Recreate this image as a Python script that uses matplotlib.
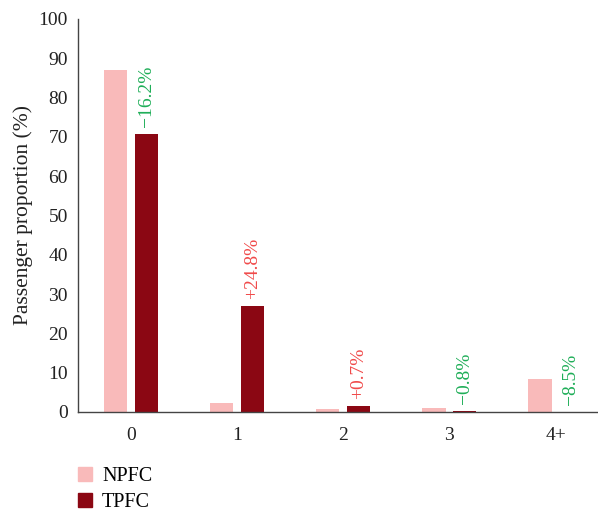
import matplotlib.pyplot as plt
import numpy as np
from matplotlib.lines import Line2D

## Data
categories = ["0", "1", "2", "3", "4+"]
npfc = [87.0, 2.2, 0.8, 1.0, 8.5]
tpfc = [70.8, 27.0, 1.5, 0.2, 0.0]
change_labels = ["\u221216.2%", "+24.8%", "+0.7%", "\u22120.8%", "\u22128.5%"]

npfc_color = "#f9baba"
tpfc_color = "#8b0713"
up_color = "#f04a4a"
down_color = "#1fae58"

plt.rcParams["font.family"] = ["Liberation Serif", "DejaVu Serif"]

fig = plt.figure(figsize=(5.98, 5.13), dpi=100)
ax = fig.add_axes([0.130, 0.197, 0.870, 0.766])

x = np.arange(len(categories))
w = 0.22
ax.bar(x - 0.145, npfc, width=w, color=npfc_color, label="NPFC")
ax.bar(x + 0.145, tpfc, width=w, color=tpfc_color, label="TPFC")

# change labels sit above the TPFC bar, rotated
for i, lab in enumerate(change_labels):
    col = up_color if lab.startswith("+") else down_color
    ax.annotate(lab, (x[i] + 0.145, tpfc[i]), xytext=(0, 5),
                textcoords="offset points", rotation=90,
                ha="center", va="bottom", color=col, fontsize=14)

ax.set_xlim(-0.5, 4.4)
ax.set_ylim(0, 100)
ax.set_yticks(range(0, 101, 10))
ax.set_xticks(x)
ax.set_xticklabels(categories)
ax.tick_params(length=0, labelsize=14, colors="#222222")
ax.tick_params(axis="y", pad=7)
ax.tick_params(axis="x", pad=11)
ax.set_ylabel("Passenger proportion (%)", fontsize=15.5, color="#222222", labelpad=4)

for s in ["top", "right"]:
    ax.spines[s].set_visible(False)
for s in ["left", "bottom"]:
    ax.spines[s].set_color("#444444")
    ax.spines[s].set_linewidth(1.0)

handles = [
    Line2D([], [], marker="s", linestyle="", markersize=9.5, color=npfc_color),
    Line2D([], [], marker="s", linestyle="", markersize=9.5, color=tpfc_color),
]
fig.legend(handles, ["NPFC", "TPFC"], loc="upper left", bbox_to_anchor=(0.095, 0.126),
           frameon=False, fontsize=14.5, handletextpad=0.35, labelspacing=0.35,
           handlelength=1.0)

fig.savefig("out.png", dpi=100)
